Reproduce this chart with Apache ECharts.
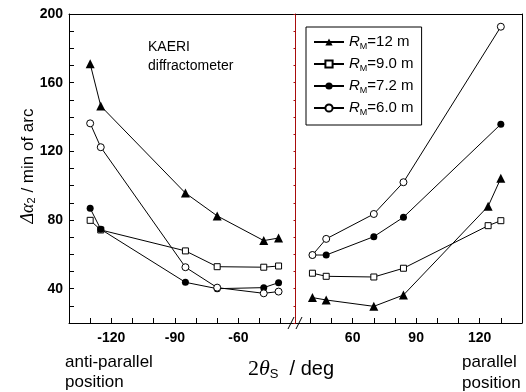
<!DOCTYPE html>
<html><head><meta charset="utf-8">
<script src="https://cdn.jsdelivr.net/npm/echarts@6/dist/echarts.min.js"></script>
<style>html,body{margin:0;padding:0;background:#fff}#c{width:526px;height:392px}</style>
</head><body><div id="c"></div>
<script>
// ---- data ----
const seriesNames = ['RM=12 m', 'RM=9.0 m', 'RM=7.2 m', 'RM=6.0 m'];
const xAnti = [-130, -125, -85, -70, -48, -41];
const xPar = [41, 47.5, 70, 84, 124, 130];
const xParCirc = [41, 47.5, 70, 84, 130];
const r12Anti = [171, 146.4, 95.7, 82.4, 68, 69.5];
const r12Par = [34.8, 33.4, 29.7, 36.3, 88, 104.3];
const r90Anti = [79.8, 74.2, 62, 52.8, 52.5, 53.2];
const r90Par = [49, 47.2, 46.8, 51.9, 76.7, 79.6];
const r72Anti = [86.8, 74.6, 43.7, 40, 40.6, 43.5];
const r72Par = [59.6, 59.6, 70.3, 81.6, 135.8];
const r60Anti = [136.3, 122.4, 52.5, 40.6, 37.3, 38.3];
const r60Par = [59.6, 69, 83.5, 102, 192.6];
const yTickLabels = [40, 80, 120, 160, 200];
const antiTicks = [-140, -130, -120, -110, -100, -90, -80, -70, -60, -50, -40];
const antiTickLabels = [-120, -90, -60];
const parTicks = [40, 50, 60, 70, 80, 90, 100, 110, 120, 130, 140];
const parTickLabels = [60, 90, 120];

const FONT = 'Liberation Sans, Arial, sans-serif';
const SERIF = 'Liberation Serif, Times New Roman, serif';
const RED = '#a80c0c';

function pts(xs, ys) { return xs.map((x, i) => [x, ys[i]]); }

const chart = echarts.init(document.getElementById('c'));

const gridTop = 14, gridH = 309;
const bottomX = (gi, min, max, ticks, labels) => ({
  type: 'value', gridIndex: gi, min: min, max: max, position: 'bottom',
  axisLine: { show: true, onZero: false, lineStyle: { color: '#000', width: 1 } },
  axisTick: { show: true, inside: true, length: 5, customValues: ticks, lineStyle: { color: '#000' } },
  axisLabel: { show: true, customValues: labels, color: '#000', fontFamily: FONT, fontWeight: 'bold', fontSize: 14, margin: 8 },
  splitLine: { show: false }
});
const frameX = (gi, min, max) => ({
  type: 'value', gridIndex: gi, min: min, max: max, position: 'top',
  axisLine: { show: true, onZero: false, lineStyle: { color: '#000', width: 1 } },
  axisTick: { show: false }, axisLabel: { show: false }, splitLine: { show: false }
});

const lineS = (name, xi, yi, data, symbol, size, filled) => ({
  name: name, type: 'line', xAxisIndex: xi, yAxisIndex: yi, data: data,
  symbol: symbol, symbolSize: size, showSymbol: true, animation: false,
  lineStyle: { color: '#000', width: 1 },
  itemStyle: filled ? { color: '#000', borderColor: '#000', borderWidth: 0 }
                    : { color: '#fff', borderColor: '#000', borderWidth: 1 },
  emphasis: { disabled: true }, z: 3
});

const legendFmt = name => '{i|R}{s|M}{t|' + name.slice(2) + '}';

chart.setOption({
  animation: false,
  backgroundColor: '#fff',
  grid: [
    { left: 69, top: gridTop, width: 226.5, height: gridH },
    { left: 295.5, top: gridTop, width: 226.5, height: gridH }
  ],
  xAxis: [
    bottomX(0, -140, -33, antiTicks, antiTickLabels),
    bottomX(1, 33, 140, parTicks, parTickLabels),
    frameX(0, -140, -33),
    frameX(1, 33, 140)
  ],
  yAxis: [
    { type: 'value', gridIndex: 0, min: 20, max: 200, interval: 10, position: 'left',
      axisLine: { show: true, onZero: false, lineStyle: { color: '#000' } },
      axisTick: { show: true, inside: true, length: 5, lineStyle: { color: '#000' } },
      axisLabel: { color: '#000', fontFamily: FONT, fontWeight: 'bold', fontSize: 14, margin: 6,
        formatter: v => (yTickLabels.indexOf(v) >= 0 ? String(v) : '') },
      splitLine: { show: false } },
    { type: 'value', gridIndex: 1, min: 20, max: 200, interval: 10, position: 'left',
      axisLine: { show: true, onZero: false, lineStyle: { color: RED, width: 1 } },
      axisTick: { show: true, inside: false, length: 2, lineStyle: { color: RED } },
      axisLabel: { show: false }, splitLine: { show: false } },
    { type: 'value', gridIndex: 1, min: 20, max: 200, position: 'right',
      axisLine: { show: true, onZero: false, lineStyle: { color: '#000' } },
      axisTick: { show: false }, axisLabel: { show: false }, splitLine: { show: false } }
  ],
  legend: {
    data: seriesNames, orient: 'vertical', left: 306, top: 27,
    itemWidth: 30, itemHeight: 9, itemGap: 4, padding: [6, 8, 8, 7],
    borderColor: '#000', borderWidth: 1, selectedMode: false,
    formatter: legendFmt,
    textStyle: {
      color: '#000', fontFamily: FONT, fontSize: 15,
      rich: {
        i: { fontStyle: 'italic', fontFamily: FONT, fontSize: 15, lineHeight: 20, color: '#000' },
        s: { fontFamily: FONT, fontSize: 9, lineHeight: 20, padding: [9, 0, 0, 0], color: '#000' },
        t: { fontFamily: FONT, fontSize: 15, lineHeight: 20, color: '#000' }
      }
    }
  },
  series: [
    lineS(seriesNames[0], 0, 0, pts(xAnti, r12Anti), 'triangle', 9, true),
    lineS(seriesNames[0], 1, 1, pts(xPar, r12Par), 'triangle', 9, true),
    lineS(seriesNames[1], 0, 0, pts(xAnti, r90Anti), 'rect', 6, false),
    lineS(seriesNames[1], 1, 1, pts(xPar, r90Par), 'rect', 6, false),
    lineS(seriesNames[2], 0, 0, pts(xAnti, r72Anti), 'circle', 7, true),
    lineS(seriesNames[2], 1, 1, pts(xParCirc, r72Par), 'circle', 7, true),
    lineS(seriesNames[3], 0, 0, pts(xAnti, r60Anti), 'circle', 7, false),
    lineS(seriesNames[3], 1, 1, pts(xParCirc, r60Par), 'circle', 7, false)
  ],
  graphic: [
    { type: 'text', left: 148, top: 38, silent: true,
      style: { text: 'KAERI\ndiffractometer', font: '14px ' + FONT, fill: '#000', lineHeight: 19 } },
    { type: 'text', left: 65, top: 352, silent: true,
      style: { text: 'anti-parallel\nposition', font: '17px ' + FONT, fill: '#000', lineHeight: 20 } },
    { type: 'text', left: 462, top: 352, silent: true,
      style: { text: 'parallel\nposition', font: '17px ' + FONT, fill: '#000', lineHeight: 21 } },
    { type: 'text', x: 248, y: 369, silent: true,
      style: {
        text: '{a|2}{b|θ}{c|S}{d|  / deg}', verticalAlign: 'middle', align: 'left',
        rich: {
          a: { fontFamily: SERIF, fontSize: 22, color: '#000' },
          b: { fontFamily: SERIF, fontStyle: 'italic', fontSize: 22, color: '#000' },
          c: { fontFamily: FONT, fontSize: 13, padding: [10, 0, 0, 0], color: '#000' },
          d: { fontFamily: FONT, fontSize: 20, color: '#000' }
        }
      } },
    { type: 'text', x: 28, y: 166, rotation: Math.PI / 2, silent: true,
      style: {
        text: '{a|Δα}{b|2}{d| / min of arc}', align: 'center', verticalAlign: 'middle',
        rich: {
          a: { fontFamily: SERIF, fontStyle: 'italic', fontSize: 18, color: '#000' },
          b: { fontFamily: FONT, fontSize: 11, padding: [8, 0, 0, 0], color: '#000' },
          d: { fontFamily: FONT, fontSize: 17, color: '#000' }
        }
      } },
    { type: 'line', silent: true, shape: { x1: 288, y1: 329, x2: 294, y2: 317 }, style: { stroke: '#000', lineWidth: 1 } },
    { type: 'line', silent: true, shape: { x1: 296, y1: 329, x2: 302, y2: 317 }, style: { stroke: '#000', lineWidth: 1 } }
  ]
});
</script>
</body></html>
